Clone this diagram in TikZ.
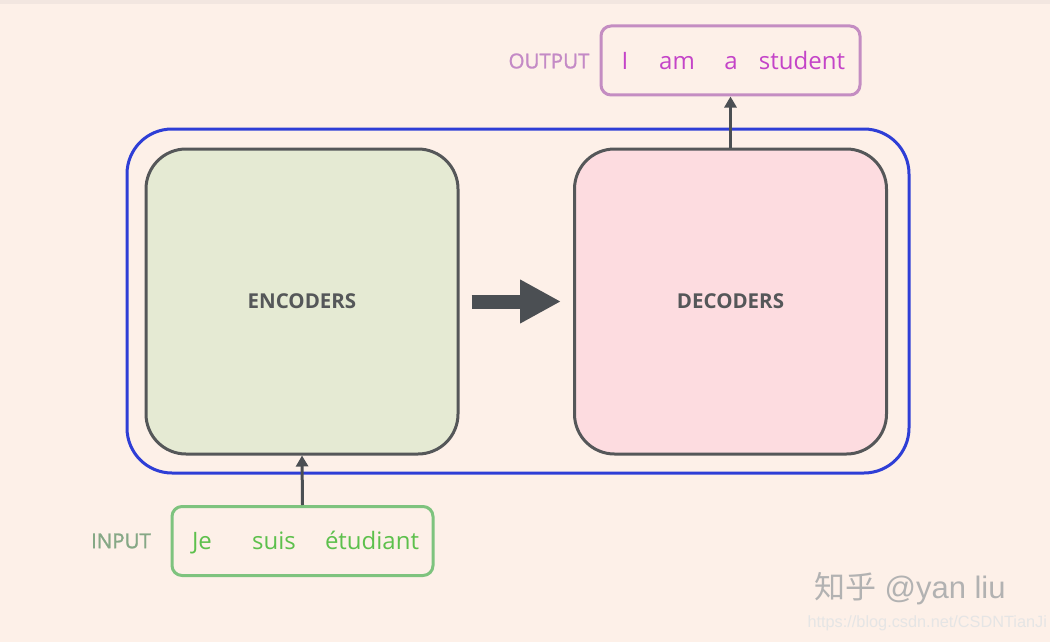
\documentclass[tikz,border=0pt]{standalone}
\usepackage{fontspec}
\setmainfont{Open Sans}
\newfontfamily\semib[FakeBold=1.2]{Open Sans}
\newfontfamily\cjkfont{Noto Sans CJK SC}
\newfontfamily\wmfont{Liberation Sans}
\usetikzlibrary{arrows.meta}
\definecolor{bgc}{HTML}{FDF0E8}
\definecolor{topc}{HTML}{F2E6E0}
\definecolor{bluec}{HTML}{2E3ED6}
\definecolor{darkc}{HTML}{555759}
\definecolor{encfill}{HTML}{E5EAD3}
\definecolor{decfill}{HTML}{FDDCE0}
\definecolor{outline}{HTML}{C48DC2}
\definecolor{outtext}{HTML}{C444C8}
\definecolor{outlabel}{HTML}{C48AC6}
\definecolor{inline}{HTML}{7EC37E}
\definecolor{intext}{HTML}{5DC04C}
\definecolor{inlabel}{HTML}{86A886}
\definecolor{arrowc}{HTML}{4B4F53}
\tikzset{
  bigbox/.style={draw=darkc, line width=3pt, rounded corners=40pt, minimum width=312pt, minimum height=305pt, inner sep=0pt},
  boxlabel/.style={text=darkc, font=\fontsize{20.5}{22}\selectfont\bfseries},
  sidelabel/.style={font=\semib\fontsize{20.5}{23}\selectfont},
  wordbox/.style={line width=3pt, rounded corners=10pt, minimum height=69pt, inner sep=0pt},
  outword/.style={text=outtext, font=\fontsize{24}{26}\selectfont, anchor=base},
  inword/.style={text=intext, font=\fontsize{24}{26}\selectfont, anchor=base},
  thinarrow/.style={draw=arrowc, line width=3pt, -{Triangle[length=11pt,width=12pt]}},
}
\begin{document}
\begin{tikzpicture}[x=1pt,y=-1pt]
\useasboundingbox (0,0) rectangle (1050,642);
\fill[bgc] (0,0) rectangle (1050,642);
\fill[topc] (0,0) rectangle (1050,4);
% outer blue container
\node[draw=bluec, line width=3pt, rounded corners=45pt, minimum width=782pt, minimum height=344pt, inner sep=0pt] (outer) at (518,301) {};
% encoder and decoder
\node[bigbox, fill=encfill] (enc) at (302,301.5) {};
\node[boxlabel] (enclab) at (302,301.5) {ENCODERS};
\node[bigbox, fill=decfill] (dec) at (730.5,301.5) {};
\node[boxlabel] (declab) at (730.5,301.5) {DECODERS};
% thick arrow
\draw[arrowc, line width=14pt, -{Triangle[length=41pt,width=41pt]}] ([xshift=12pt]enc.east) -- ([xshift=-12pt]dec.west);
% output box
\node[wordbox, draw=outline, minimum width=259pt] (outbox) at (730.5,60.5) {};
\node[sidelabel, text=outlabel] (outlab) at (549,61) {OUTPUT};
\node[outword] (w1) at (625,69.5) {I};
\node[outword] (w2) at (677,69.5) {am};
\node[outword] (w3) at (731,69.5) {a};
\node[outword] (w4) at (802,69.5) {student};
% input box
\node[wordbox, draw=inline, minimum width=261pt] (inbox) at (302.5,541) {};
\node[sidelabel, text=inlabel] (inlab) at (121,541) {INPUT};
\node[inword] (v1) at (202,549.5) {Je};
\node[inword] (v2) at (274,549.5) {suis};
\node[inword] (v3) at (372,549.5) {étudiant};
% thin arrows
\draw[thinarrow] (inbox.north) -- (enc.south);
\draw[thinarrow] (dec.north -| outbox.south) -- (outbox.south);
% watermark
\node[text=black!30, font=\fontsize{31}{34}\selectfont, anchor=west] (wm1) at (811,589) {{\cjkfont 知乎} {\wmfont @yan liu}};
\node[text=white!90!black, font=\wmfont\fontsize{16.3}{18}\selectfont, anchor=west] (wm2) at (804,623) {https://blog.csdn.net/CSDNTianJi};
\end{tikzpicture}
\end{document}
